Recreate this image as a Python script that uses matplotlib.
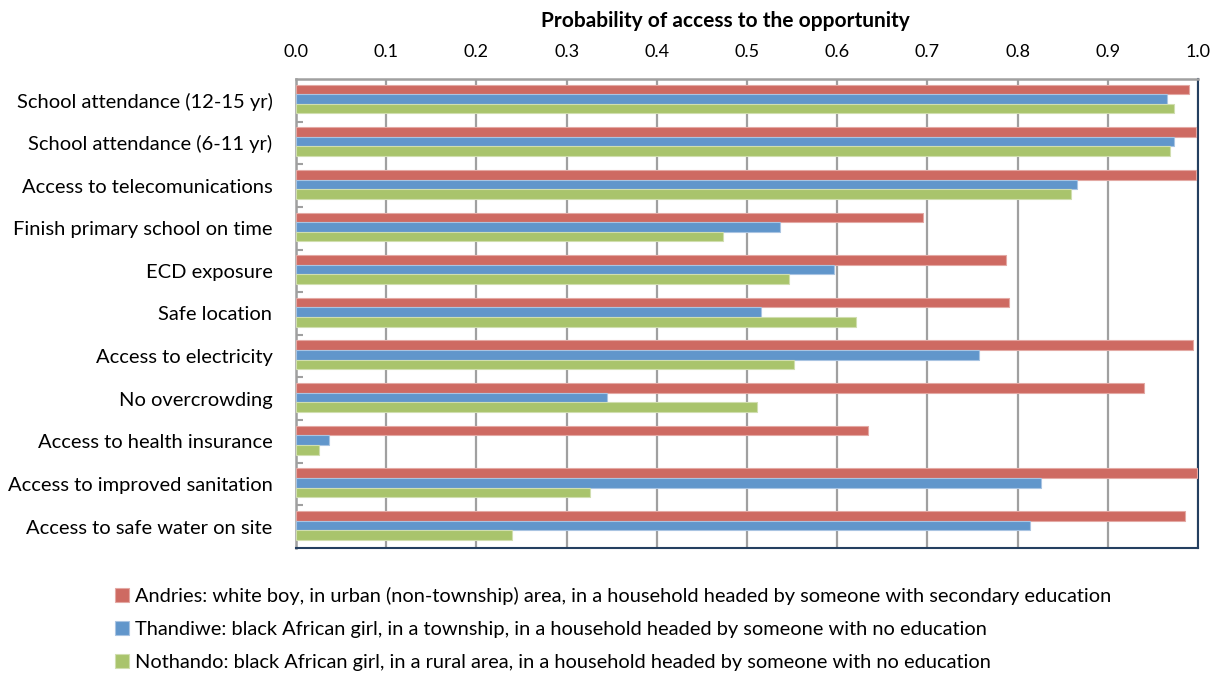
import matplotlib
matplotlib.use("Agg")
import matplotlib.pyplot as plt
import numpy as np

plt.rcParams['font.family'] = ['Lato', 'DejaVu Sans']

categories = [
    "School attendance (12-15 yr)",
    "School attendance (6-11 yr)",
    "Access to telecomunications",
    "Finish primary school on time",
    "ECD exposure",
    "Safe location",
    "Access to electricity",
    "No overcrowding",
    "Access to health insurance",
    "Access to improved sanitation",
    "Access to safe water on site",
]

andries = [0.990, 0.998, 0.998, 0.695, 0.787, 0.790, 0.995, 0.940, 0.634, 0.999, 0.986]
thandiwe = [0.966, 0.973, 0.866, 0.537, 0.597, 0.516, 0.757, 0.345, 0.037, 0.826, 0.814]
nothando = [0.973, 0.969, 0.859, 0.473, 0.547, 0.621, 0.552, 0.511, 0.026, 0.326, 0.240]

series_labels = [
    "Andries: white boy, in urban (non-township) area, in a household headed by someone with secondary education",
    "Thandiwe: black African girl, in a township, in a household headed by someone with no education",
    "Nothando: black African girl, in a rural area, in a household headed by someone with no education",
]
colors = ["#CE6A62", "#6196CB", "#A9C46C"]
edge_colors = ["#E3A9A4", "#A9C4E2", "#D0DEAF"]

x_ticks = np.round(np.arange(0, 1.01, 0.1), 1)

fig = plt.figure(figsize=(12.12, 6.75), dpi=100)
ax = fig.add_axes([296 / 1212, 1 - 548 / 675, 902 / 1212, 469 / 675])

y = np.arange(len(categories))
h = 0.225
containers = []
for i, (vals, c, ec, lab) in enumerate(zip([andries, thandiwe, nothando], colors, edge_colors, series_labels)):
    bc = ax.barh(y + (i - 1) * h - 0.03, vals, height=h, color=c, edgecolor=ec,
                 linewidth=0.8, label=lab, zorder=3)
    containers.append(bc)

ax.set_xlim(0, 1.0)
ax.set_ylim(len(categories) - 0.5, -0.5)
ax.set_yticks(y)
ax.set_yticklabels(categories, fontsize=14.5)
ax.set_yticks(np.arange(len(categories) - 1) + 0.5, minor=True)
ax.tick_params(axis='y', which='major', length=0, pad=17)
ax.tick_params(axis='y', which='minor', direction='in', length=5, width=1.5, color='#A0A0A0')

ax.xaxis.tick_top()
ax.xaxis.set_label_position('top')
ax.set_xticks(x_ticks)
ax.set_xticklabels([f"{v:.1f}" for v in x_ticks], fontsize=13)
ax.tick_params(axis='x', length=0, pad=14)
ax.grid(axis='x', color='#A0A0A0', linewidth=1.6, zorder=0)
ax.set_axisbelow(True)

for s in ['top', 'left']:
    ax.spines[s].set_color('#A0A0A0')
    ax.spines[s].set_linewidth(1.8)
for s in ['right', 'bottom']:
    ax.spines[s].set_color('#243F60')
    ax.spines[s].set_linewidth(1.5)

fig.text(725 / 1212, 1 - 21 / 675, "Probability of access to the opportunity",
         ha='center', va='center', fontsize=15, fontweight='bold')

fig.legend(handles=containers, labels=series_labels, loc='upper left',
           bbox_to_anchor=(115 / 1212, 1 - 587 / 675), frameon=False,
           fontsize=14.4, handlelength=0.7, handleheight=0.7, handletextpad=0.3,
           labelspacing=0.8, borderaxespad=0, borderpad=0)

fig.savefig("out.png", dpi=100)
